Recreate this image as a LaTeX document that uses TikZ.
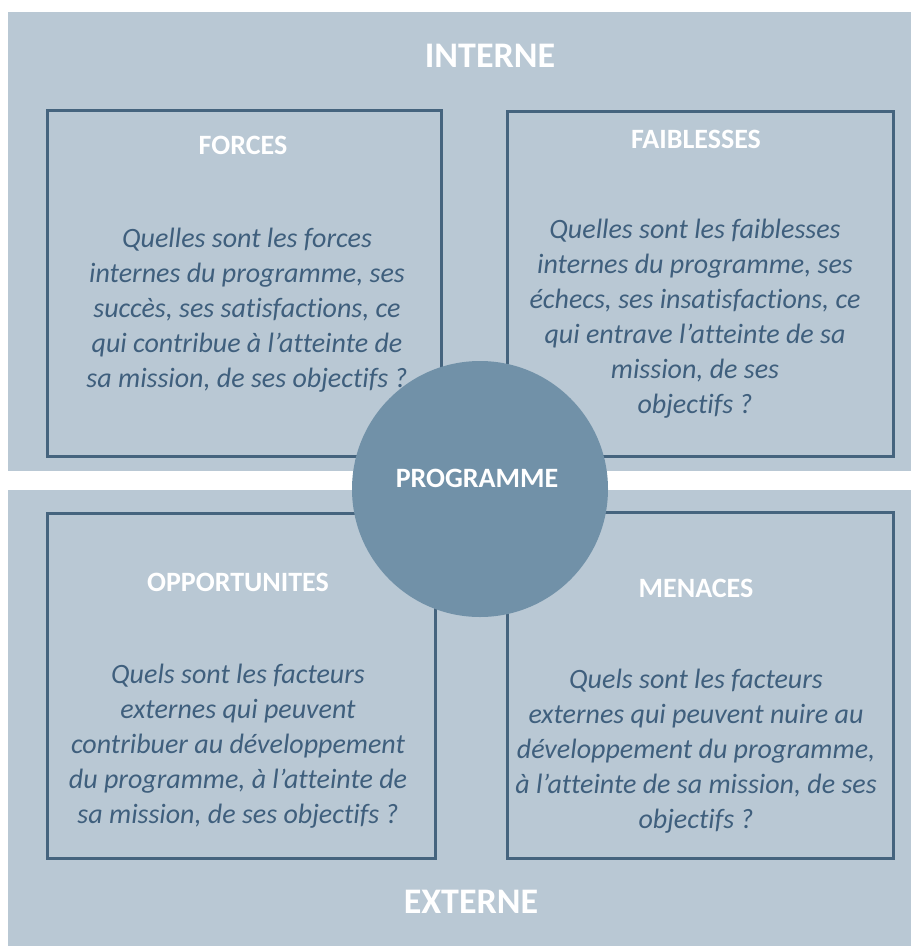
\documentclass[tikz,border=0pt]{standalone}
\usepackage{fontspec}
\setsansfont{Carlito}[Ligatures=NoCommon]
\usetikzlibrary{positioning}

\definecolor{panelbg}{HTML}{B9C8D4}
\definecolor{boxline}{HTML}{45647E}
\definecolor{hubfill}{HTML}{7191A8}
\definecolor{bodyink}{HTML}{3F5F7D}

\begin{document}
\begin{tikzpicture}[x=1pt,y=-1pt,
  quad box/.style={draw=boxline,line width=3pt,inner sep=0pt},
  title text/.style={text=white,anchor=base,font=\sffamily\bfseries\fontsize{28pt}{34pt}\selectfont},
  axis text/.style={text=white,anchor=base,font=\sffamily\bfseries\fontsize{36pt}{44pt}\selectfont},
  body text/.style={text=bodyink,anchor=base,align=center,font=\sffamily\itshape\fontsize{28pt}{35pt}\selectfont}]

  \useasboundingbox (0,0) rectangle (911,946);
  \fill[panelbg] (8,12) rectangle (911,946);
  \fill[white] (8,471) rectangle (911,490);

  \node[quad box,minimum width=394pt,minimum height=346pt] (forces) at (244,283) {};
  \node[quad box,minimum width=386pt,minimum height=345pt] (faiblesses) at (700,283.5) {};
  \node[quad box,minimum width=388pt,minimum height=345pt] (opportunites) at (241,685.5) {};
  \node[quad box,minimum width=386pt,minimum height=346pt] (menaces) at (700,685) {};

  \node[axis text] (interne) at (490,67) {INTERNE};
  \node[axis text] (externe) at (471,913) {EXTERNE};

  \node[title text] (t forces) at (243,154) {FORCES};
  \node[title text] (t faiblesses) at (696,148) {FAIBLESSES};
  \node[title text] (t opportunites) at (238,591) {OPPORTUNITES};
  \node[title text] (t menaces) at (696,597) {MENACES};

  % base = baseline of the last line
  \node[body text] (q forces) at (247,387) {Quelles sont les forces\\internes du programme, ses\\succès, ses satisfactions, ce\\qui contribue à l’atteinte de\\sa mission, de ses objectifs ?};
  \node[body text] (q faiblesses) at (695,413) {Quelles sont les faiblesses\\internes du programme, ses\\échecs, ses insatisfactions, ce\\qui entrave l’atteinte de sa\\mission, de ses\\objectifs ?};
  \node[body text] (q opportunites) at (238,823) {Quels sont les facteurs\\externes qui peuvent\\contribuer au développement\\du programme, à l’atteinte de\\sa mission, de ses objectifs ?};
  \node[body text] (q menaces) at (696,828) {Quels sont les facteurs\\externes qui peuvent nuire au\\développement du programme,\\à l’atteinte de sa mission, de ses\\objectifs ?};

  % the hub sits over the four boxes
  \node[circle,fill=hubfill,minimum size=256pt,inner sep=0pt] (hub) at (480,489) {};
  \node[title text] (programme) at (477,487) {PROGRAMME};

\end{tikzpicture}
\end{document}
